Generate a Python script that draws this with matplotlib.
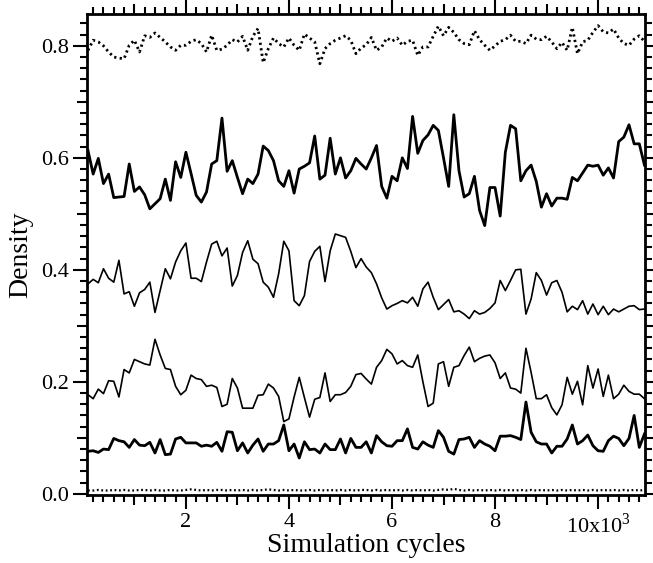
import matplotlib
matplotlib.use("Agg")
import matplotlib.pyplot as plt
import numpy as np
from matplotlib.ticker import FixedLocator, FixedFormatter

plt.rcParams['font.family'] = ['Liberation Serif', 'DejaVu Serif']
plt.rcParams['mathtext.fontset'] = 'custom'
plt.rcParams['mathtext.rm'] = 'Liberation Serif'

# simulation cycles (x1000), one sample every 100 cycles
cycles = [round(0.1 * i, 1) for i in range(1, 110)]

dens_top = [0.792, 0.810, 0.807, 0.800, 0.789, 0.780, 0.778, 0.777, 0.801, 0.810,
            0.789, 0.818, 0.815, 0.823, 0.815, 0.807, 0.798, 0.792, 0.801, 0.801,
            0.808, 0.811, 0.804, 0.789, 0.819, 0.792, 0.794, 0.801, 0.811, 0.807,
            0.817, 0.792, 0.817, 0.831, 0.770, 0.795, 0.814, 0.804, 0.798, 0.814,
            0.801, 0.792, 0.821, 0.814, 0.807, 0.768, 0.795, 0.804, 0.810, 0.814,
            0.818, 0.810, 0.786, 0.796, 0.802, 0.815, 0.792, 0.798, 0.814, 0.808,
            0.814, 0.801, 0.808, 0.810, 0.783, 0.798, 0.798, 0.817, 0.835, 0.818,
            0.833, 0.824, 0.811, 0.804, 0.802, 0.827, 0.811, 0.801, 0.792, 0.800,
            0.808, 0.811, 0.819, 0.808, 0.808, 0.804, 0.819, 0.812, 0.811, 0.817,
            0.807, 0.795, 0.806, 0.792, 0.833, 0.786, 0.807, 0.810, 0.824, 0.836,
            0.825, 0.823, 0.830, 0.814, 0.804, 0.801, 0.812, 0.818, 0.808]

dens_b = [0.613, 0.571, 0.599, 0.554, 0.571, 0.529, 0.530, 0.531, 0.589, 0.540,
          0.548, 0.534, 0.509, 0.518, 0.527, 0.562, 0.524, 0.593, 0.565, 0.610,
          0.572, 0.533, 0.521, 0.539, 0.589, 0.595, 0.671, 0.576, 0.595, 0.565,
          0.536, 0.562, 0.554, 0.571, 0.621, 0.613, 0.595, 0.559, 0.549, 0.577,
          0.537, 0.580, 0.585, 0.591, 0.639, 0.562, 0.569, 0.635, 0.571, 0.600,
          0.564, 0.577, 0.599, 0.589, 0.580, 0.600, 0.622, 0.549, 0.528, 0.567,
          0.559, 0.600, 0.581, 0.674, 0.608, 0.631, 0.641, 0.658, 0.649, 0.600,
          0.549, 0.677, 0.577, 0.530, 0.536, 0.567, 0.506, 0.479, 0.547, 0.547,
          0.496, 0.610, 0.658, 0.652, 0.559, 0.577, 0.587, 0.558, 0.512, 0.536,
          0.514, 0.528, 0.528, 0.526, 0.565, 0.559, 0.573, 0.587, 0.585, 0.587,
          0.569, 0.582, 0.564, 0.629, 0.637, 0.659, 0.625, 0.625, 0.587]

dens_c = [0.375, 0.383, 0.377, 0.402, 0.385, 0.378, 0.417, 0.357, 0.361, 0.335,
          0.359, 0.365, 0.378, 0.324, 0.363, 0.402, 0.384, 0.414, 0.434, 0.448,
          0.385, 0.385, 0.379, 0.414, 0.446, 0.451, 0.425, 0.439, 0.371, 0.390,
          0.431, 0.452, 0.419, 0.411, 0.378, 0.369, 0.351, 0.393, 0.451, 0.434,
          0.345, 0.336, 0.354, 0.415, 0.433, 0.442, 0.379, 0.434, 0.464, 0.461,
          0.458, 0.433, 0.404, 0.420, 0.405, 0.395, 0.375, 0.350, 0.330, 0.336,
          0.340, 0.345, 0.341, 0.351, 0.335, 0.366, 0.378, 0.351, 0.329, 0.338,
          0.347, 0.325, 0.327, 0.321, 0.313, 0.327, 0.321, 0.324, 0.331, 0.341,
          0.381, 0.363, 0.381, 0.400, 0.401, 0.321, 0.348, 0.395, 0.381, 0.355,
          0.377, 0.381, 0.360, 0.325, 0.335, 0.329, 0.345, 0.321, 0.339, 0.320,
          0.335, 0.320, 0.330, 0.325, 0.330, 0.335, 0.336, 0.329, 0.330]

dens_d = [0.177, 0.170, 0.187, 0.179, 0.202, 0.201, 0.173, 0.222, 0.216, 0.240,
          0.236, 0.232, 0.230, 0.276, 0.248, 0.224, 0.222, 0.192, 0.177, 0.185,
          0.212, 0.206, 0.204, 0.192, 0.194, 0.190, 0.156, 0.160, 0.206, 0.189,
          0.153, 0.153, 0.153, 0.176, 0.177, 0.196, 0.189, 0.174, 0.129, 0.134,
          0.173, 0.208, 0.172, 0.137, 0.169, 0.172, 0.216, 0.165, 0.177, 0.177,
          0.181, 0.192, 0.213, 0.215, 0.205, 0.196, 0.226, 0.238, 0.258, 0.250,
          0.232, 0.238, 0.229, 0.226, 0.248, 0.200, 0.156, 0.162, 0.232, 0.236,
          0.192, 0.226, 0.229, 0.247, 0.262, 0.236, 0.242, 0.246, 0.248, 0.234,
          0.206, 0.216, 0.189, 0.187, 0.180, 0.260, 0.217, 0.170, 0.170, 0.177,
          0.154, 0.141, 0.159, 0.208, 0.178, 0.201, 0.159, 0.229, 0.189, 0.223,
          0.174, 0.212, 0.170, 0.178, 0.194, 0.183, 0.178, 0.178, 0.170]

dens_e = [0.076, 0.077, 0.074, 0.080, 0.079, 0.099, 0.095, 0.093, 0.083, 0.097,
          0.087, 0.086, 0.092, 0.073, 0.097, 0.070, 0.071, 0.098, 0.101, 0.091,
          0.091, 0.091, 0.085, 0.087, 0.085, 0.092, 0.076, 0.111, 0.110, 0.077,
          0.091, 0.073, 0.087, 0.098, 0.076, 0.089, 0.089, 0.095, 0.123, 0.077,
          0.089, 0.064, 0.093, 0.079, 0.080, 0.073, 0.089, 0.079, 0.079, 0.098,
          0.073, 0.099, 0.083, 0.083, 0.093, 0.073, 0.104, 0.093, 0.086, 0.085,
          0.095, 0.095, 0.116, 0.083, 0.080, 0.093, 0.087, 0.083, 0.113, 0.101,
          0.076, 0.071, 0.097, 0.098, 0.101, 0.083, 0.095, 0.089, 0.085, 0.077,
          0.103, 0.103, 0.104, 0.101, 0.097, 0.164, 0.110, 0.093, 0.089, 0.089,
          0.073, 0.085, 0.085, 0.098, 0.123, 0.089, 0.095, 0.105, 0.086, 0.077,
          0.076, 0.095, 0.103, 0.099, 0.086, 0.099, 0.140, 0.083, 0.107]

dens_bottom = [0.006, 0.006, 0.007, 0.006, 0.006, 0.007, 0.006, 0.007, 0.006, 0.006,
               0.007, 0.007, 0.006, 0.007, 0.006, 0.006, 0.007, 0.006, 0.006, 0.007,
               0.008, 0.007, 0.006, 0.007, 0.006, 0.007, 0.007, 0.006, 0.007, 0.006,
               0.007, 0.006, 0.007, 0.006, 0.007, 0.008, 0.007, 0.006, 0.007, 0.006,
               0.007, 0.006, 0.006, 0.007, 0.006, 0.007, 0.006, 0.007, 0.006, 0.007,
               0.006, 0.007, 0.006, 0.007, 0.007, 0.006, 0.007, 0.006, 0.007, 0.006,
               0.007, 0.006, 0.007, 0.006, 0.007, 0.006, 0.007, 0.006, 0.007, 0.008,
               0.007, 0.009, 0.007, 0.006, 0.007, 0.006, 0.007, 0.006, 0.007, 0.006,
               0.007, 0.006, 0.007, 0.006, 0.007, 0.006, 0.007, 0.006, 0.007, 0.006,
               0.007, 0.006, 0.007, 0.006, 0.007, 0.006, 0.007, 0.006, 0.007, 0.006,
               0.007, 0.006, 0.007, 0.006, 0.007, 0.006, 0.007, 0.006, 0.007]

x_major = [1, 2, 3, 4, 5, 6, 7, 8, 9, 10]
x_labels = ['', '2', '', '4', '', '6', '', '8', '', r'10x10$^3$']
y_major = [0.0, 0.1, 0.2, 0.3, 0.4, 0.5, 0.6, 0.7, 0.8]
y_labels = ['0.0', '', '0.2', '', '0.4', '', '0.6', '', '0.8']

fig = plt.figure(figsize=(6.53, 5.63), dpi=100)
ax = fig.add_axes([0.1332, 0.1208, 0.8545, 0.8545])

dot = (0, (0.8, 1.2))
ax.plot(cycles, dens_top, color='black', lw=2.0, ls=dot)
ax.plot(cycles, dens_b, color='black', lw=2.0)
ax.plot(cycles, dens_c, color='black', lw=1.2)
ax.plot(cycles, dens_d, color='black', lw=1.2)
ax.plot(cycles, dens_e, color='black', lw=2.0)
ax.plot(cycles, dens_bottom, color='black', lw=1.6, ls=dot)

ax.set_xlim(0.08, 10.91)
ax.set_ylim(-0.002, 0.857)

ax.xaxis.set_major_locator(FixedLocator(x_major))
ax.xaxis.set_major_formatter(FixedFormatter(x_labels))
ax.xaxis.set_minor_locator(FixedLocator([round(0.2 * i, 1) for i in range(1, 55)]))
ax.yaxis.set_major_locator(FixedLocator(y_major))
ax.yaxis.set_major_formatter(FixedFormatter(y_labels))
ax.yaxis.set_minor_locator(FixedLocator([round(0.02 * i, 2) for i in range(0, 43)]))

ax.tick_params(which='both', direction='out', top=True, right=True, width=1.5,
               labelsize=16, color='black')
ax.tick_params(which='major', length=10, pad=3)
ax.tick_params(which='minor', length=5)

# odd ticks drawn a bit shorter than the labelled ones
for i, t in enumerate(ax.xaxis.get_major_ticks()):
    if i % 2 == 0:
        t.tick1line.set_markersize(7)
        t.tick2line.set_markersize(7)
for i, t in enumerate(ax.yaxis.get_major_ticks()):
    if i % 2 == 1:
        t.tick1line.set_markersize(7)
        t.tick2line.set_markersize(7)

for s in ax.spines.values():
    s.set_linewidth(2)

ax.set_xlabel('Simulation cycles', fontsize=20, labelpad=-3)
ax.set_ylabel('Density', fontsize=20, labelpad=6)

fig.savefig('out.png', dpi=100)
